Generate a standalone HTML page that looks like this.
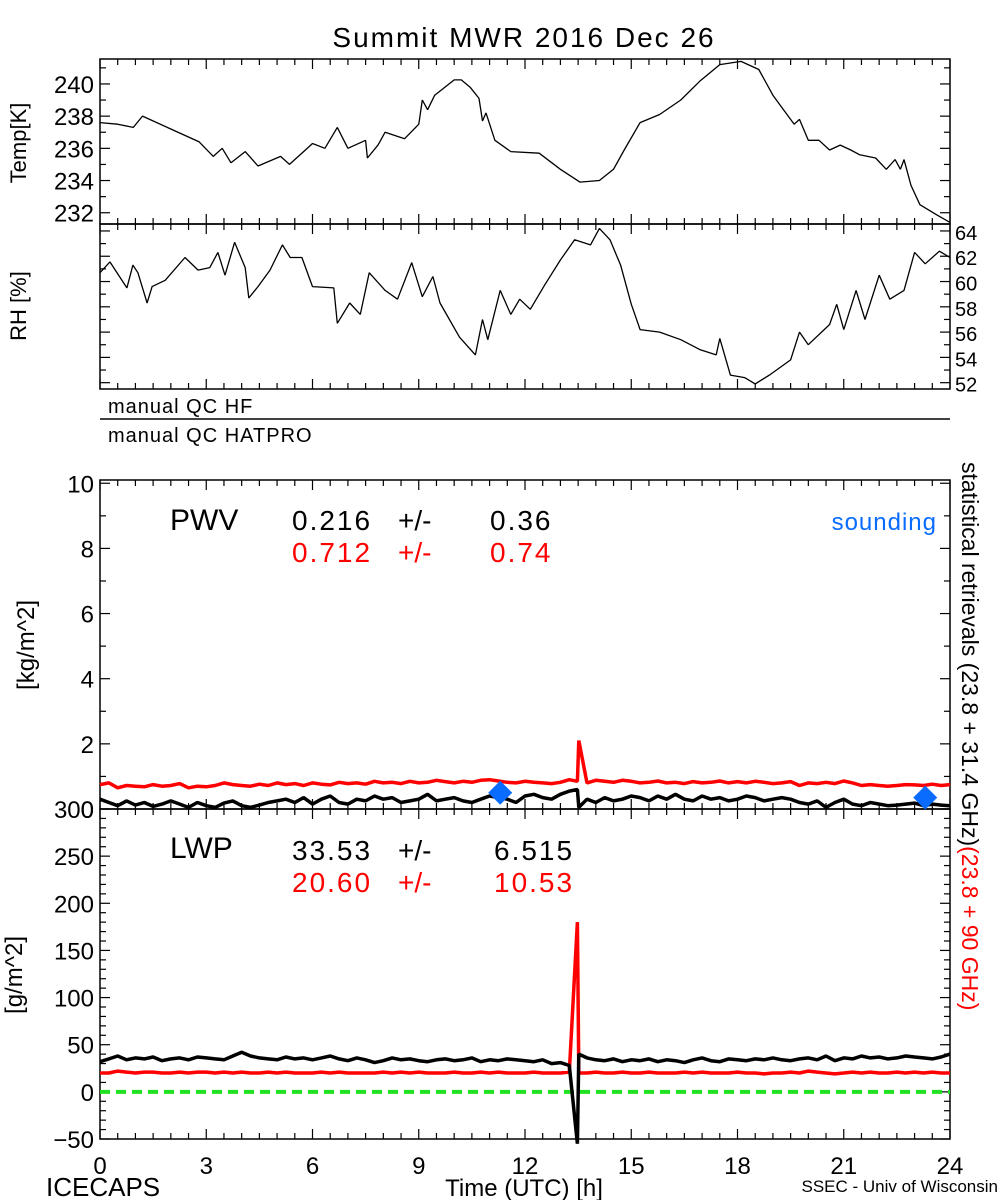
<!DOCTYPE html>
<html><head><meta charset="utf-8"><style>
body{margin:0;background:#fff;width:1000px;height:1200px;overflow:hidden}
svg{display:block;font-family:"Liberation Sans",sans-serif}
</style></head><body>
<svg id="chart" width="1000" height="1200" viewBox="0 0 1000 1200" xmlns="http://www.w3.org/2000/svg">
<text x="524" y="47" font-size="28" text-anchor="middle" letter-spacing="2">Summit MWR 2016 Dec 26</text>
<text transform="translate(26,143) rotate(-90)" font-size="22" text-anchor="middle">Temp[K]</text>
<text transform="translate(26,306) rotate(-90)" font-size="22" text-anchor="middle">RH [%]</text>
<text x="108" y="413" font-size="20" letter-spacing="1">manual QC HF</text>
<line x1="100" y1="419" x2="950" y2="419" stroke="#000" stroke-width="1.5"/>
<text x="108" y="442" font-size="20" letter-spacing="1">manual QC HATPRO</text>
<text transform="translate(34,645) rotate(-90)" font-size="24" text-anchor="middle">[kg/m^2]</text>
<text transform="translate(22,975) rotate(-90)" font-size="24" text-anchor="middle">[g/m^2]</text>
<text x="170" y="530" font-size="30">PWV</text>
<g font-size="28"><text x="292" y="530" letter-spacing="2">0.216</text><text x="398" y="530">+/-</text><text x="490" y="530" letter-spacing="2">0.36</text></g>
<g font-size="28" fill="#f00"><text x="292" y="562" letter-spacing="2">0.712</text><text x="398" y="562">+/-</text><text x="490" y="562" letter-spacing="2">0.74</text></g>
<text x="937" y="530" font-size="24" fill="#0a6cff" text-anchor="end" letter-spacing="1">sounding</text>
<text x="170" y="858" font-size="30">LWP</text>
<g font-size="28"><text x="292" y="860" letter-spacing="2">33.53</text><text x="398" y="860">+/-</text><text x="494" y="860" letter-spacing="2">6.515</text></g>
<g font-size="28" fill="#f00"><text x="292" y="892" letter-spacing="2">20.60</text><text x="398" y="892">+/-</text><text x="494" y="892" letter-spacing="2">10.53</text></g>
<text transform="translate(962,462) rotate(90)" font-size="23"><tspan>statistical retrievals (23.8 + 31.4 GHz)</tspan><tspan fill="#f00">(23.8 + 90 GHz)</tspan></text>
<text x="524" y="1196" font-size="24" text-anchor="middle">Time (UTC) [h]</text>
<text x="46" y="1196" font-size="26">ICECAPS</text>
<text x="998" y="1192" font-size="17" text-anchor="end">SSEC - Univ of Wisconsin</text>
</svg>
<script>
// Temperature (K)
const tempHours=[0,0.5,0.94,1.2,2.0,2.8,3.2,3.45,3.7,4.1,4.46,5.1,5.35,5.8,6,6.35,6.7,7,7.5,7.55,7.85,8.05,8.6,9,9.1,9.25,9.45,10,10.2,10.45,10.7,10.8,10.9,11.15,11.6,12.4,13,13.55,14.1,14.5,14.8,15.25,15.8,16.4,16.95,17.5,18.1,18.6,19,19.3,19.6,19.75,20,20.3,20.6,20.9,21.2,21.45,21.9,22.2,22.45,22.6,22.7,22.9,23.15,23.6,24];
const tempValues=[237.6,237.5,237.3,238,237.2,236.4,235.5,236,235.1,235.8,234.9,235.5,235,235.9,236.3,236,237.3,236,236.5,235.4,236.2,237,236.6,237.5,239,238.4,239.3,240.25,240.25,239.8,239.1,237.7,238.2,236.5,235.8,235.7,234.7,233.9,234,234.7,235.9,237.6,238.1,239,240.2,241.2,241.4,240.9,239.3,238.4,237.5,237.8,236.5,236.5,235.9,236.2,235.9,235.6,235.4,234.7,235.3,234.7,235.3,233.7,232.5,231.9,231.4];
const tempTicks=[232,234,236,238,240];
// Relative humidity (%)
const rhHours=[0,0.28,0.76,0.93,1.07,1.33,1.47,1.84,2.4,2.77,3.1,3.33,3.53,3.8,4.1,4.2,4.46,4.8,5.15,5.37,5.7,6,6.6,6.7,7.05,7.35,7.6,8.05,8.4,8.8,9.1,9.4,9.6,10.15,10.6,10.8,10.95,11.3,11.6,11.85,12.15,12.55,13,13.4,13.85,14.1,14.4,14.7,15,15.25,15.8,16.4,16.95,17.4,17.5,17.8,18.2,18.5,18.9,19.5,19.75,20,20.6,20.8,21,21.35,21.6,22,22.3,22.7,23,23.3,23.7,24];
const rhValues=[60.7,61.55,59.5,61.3,60.7,58.3,59.6,60.1,61.9,60.9,61.1,62.3,60.5,63.1,61.1,58.7,59.6,60.9,62.9,61.9,61.9,59.6,59.5,56.7,58.3,57.4,60.7,59.3,58.6,61.5,58.8,60.4,58.3,55.6,54.2,57,55.4,59.3,57.4,58.6,57.8,59.7,61.7,63.3,62.9,64.2,63.3,61.3,58.2,56.2,56,55.4,54.6,54.2,55.5,52.6,52.4,51.9,52.6,53.8,56,55,56.6,58.2,56.2,59.3,57,60.5,58.6,59.3,62.3,61.4,62.4,61.9];
const rhTicks=[52,54,56,58,60,62,64];
// PWV (kg/m^2)
const pwvHours=[0,0.25,0.5,0.75,1,1.25,1.5,1.75,2,2.25,2.5,2.75,3,3.25,3.5,3.75,4,4.25,4.5,4.75,5,5.25,5.5,5.75,6,6.25,6.5,6.75,7,7.25,7.5,7.75,8,8.25,8.5,8.75,9,9.25,9.5,9.75,10,10.25,10.5,10.75,11,11.25,11.5,11.75,12,12.25,12.5,12.75,13,13.25,13.48,13.52,13.75,14,14.25,14.5,14.75,15,15.25,15.5,15.75,16,16.25,16.5,16.75,17,17.25,17.5,17.75,18,18.25,18.5,18.75,19,19.25,19.5,19.75,20,20.25,20.5,20.75,21,21.25,21.5,21.75,22,22.25,22.5,22.75,23,23.25,23.5,23.75,24];
const pwvBlack=[0.3,0.2,0.1,0.25,0.12,0.2,0.08,0.15,0.25,0.15,0.05,0.2,0.1,0.05,0.18,0.25,0.1,0.05,0.12,0.2,0.25,0.3,0.2,0.35,0.15,0.3,0.4,0.2,0.15,0.3,0.25,0.4,0.3,0.35,0.2,0.25,0.3,0.45,0.25,0.3,0.35,0.25,0.2,0.3,0.4,0.35,0.3,0.2,0.4,0.45,0.35,0.3,0.45,0.55,0.6,0.05,0.3,0.2,0.35,0.25,0.3,0.4,0.35,0.25,0.4,0.3,0.45,0.3,0.25,0.4,0.3,0.35,0.25,0.3,0.4,0.35,0.25,0.3,0.35,0.3,0.2,0.15,0.25,0.05,0.2,0.3,0.15,0.1,0.2,0.15,0.1,0.12,0.15,0.18,0.1,0.15,0.12,0.1];
const pwvRed=[0.75,0.8,0.65,0.72,0.7,0.68,0.75,0.7,0.72,0.78,0.65,0.7,0.68,0.72,0.8,0.75,0.72,0.7,0.76,0.72,0.8,0.75,0.78,0.72,0.8,0.76,0.74,0.82,0.78,0.8,0.76,0.85,0.8,0.82,0.78,0.85,0.8,0.82,0.88,0.84,0.8,0.85,0.82,0.88,0.9,0.86,0.82,0.8,0.85,0.82,0.8,0.78,0.82,0.9,0.85,2.1,0.8,0.88,0.85,0.82,0.88,0.85,0.8,0.82,0.86,0.8,0.82,0.78,0.84,0.8,0.82,0.86,0.8,0.84,0.8,0.85,0.82,0.78,0.8,0.84,0.72,0.8,0.78,0.82,0.78,0.86,0.8,0.72,0.75,0.72,0.7,0.72,0.75,0.74,0.72,0.76,0.72,0.75];
const pwvTicks=[0,2,4,6,8,10];
const soundingHours=[11.3,23.3];
const soundingValues=[0.5,0.35];
// LWP (g/m^2)
const lwpBlack=[32,35,38,34,36,35,37,33,35,36,34,37,36,35,34,38,42,38,36,35,34,37,35,36,34,36,38,35,33,36,34,31,33,36,34,35,33,32,34,35,33,34,36,32,34,33,35,34,33,32,34,30,31,28,-55,40,36,34,33,35,32,34,33,35,32,34,33,31,34,36,33,32,35,34,33,35,34,36,34,33,35,36,34,38,33,36,35,38,36,37,35,36,38,37,36,35,37,40];
const lwpRed=[20,20,22,21,20,21,21,20,20,21,20,21,21,20,21,20,21,20,20,21,20,21,20,20,20,21,20,21,20,20,20,20,21,20,21,20,21,20,20,20,21,20,20,21,20,21,20,20,20,21,20,20,20,21,180,20,20,21,20,20,21,20,20,21,20,20,20,21,20,21,20,20,20,21,20,20,19,20,20,21,20,22,21,20,19,20,21,20,21,20,20,21,20,21,20,21,20,20];
const lwpTicks=[-50,0,50,100,150,200,250,300];
const xTicks=[0,3,6,9,12,15,18,21,24];

const NS='http://www.w3.org/2000/svg';
const svg=document.getElementById('chart');
const X0=100,X1=950;
const xs=h=>X0+(X1-X0)*h/24;
function mk(tag,attrs,parent){const e=document.createElementNS(NS,tag);for(const k in attrs)e.setAttribute(k,attrs[k]);(parent||svg).appendChild(e);return e;}
function yScale(top,bot,vTop,vBot){return v=>top+(vTop-v)/(vTop-vBot)*(bot-top);}

const panels=[
 {name:'temp',top:59,bot:224,vTop:241.55,vBot:231.3,minor:1,ticks:tempTicks,side:'left'},
 {name:'rh',top:224,bot:389,vTop:64.55,vBot:51.5,minor:1,ticks:rhTicks,side:'right'},
 {name:'pwv',top:480,bot:809,vTop:10.1,vBot:0,minor:1,ticks:pwvTicks,side:'left'},
 {name:'lwp',top:809,bot:1139,vTop:300,vBot:-50,minor:10,ticks:lwpTicks,side:'left'}
];
panels.forEach(p=>{
 p.y=yScale(p.top,p.bot,p.vTop,p.vBot);
 const g=mk('g',{});
 
 
 const fr=mk('rect',{x:X0,y:p.top,width:X1-X0,height:p.bot-p.top,fill:'none',stroke:'#000','stroke-width':1.5},g);
 
 
 for(let h=0;h<=24;h+=0.5){
  const maj=(h%3===0);const L=maj?10:6;const x=xs(h);
  mk('line',{x1:x,x2:x,y1:p.bot,y2:p.bot-L,stroke:'#000','stroke-width':1.2},g);
  mk('line',{x1:x,x2:x,y1:p.top,y2:p.top+L,stroke:'#000','stroke-width':1.2},g);
 }
 const start=Math.ceil(p.vBot/p.minor)*p.minor;
 for(let v=start;v<=p.vTop;v+=p.minor){
  const y=p.y(v);const maj=p.ticks.includes(Math.round(v*100)/100);const L=maj?10:6;
  mk('line',{x1:X0,x2:X0+L,y1:y,y2:y,stroke:'#000','stroke-width':1.2},g);
  mk('line',{x1:X1,x2:X1-L,y1:y,y2:y,stroke:'#000','stroke-width':1.2},g);
 }
 p.ticks.forEach(v=>{
  const t=mk('text',{x:p.side==='left'?X0-6:X1+5,y:p.y(v)+9,'font-size':(p.name==='rh'?20:24),'text-anchor':p.side==='left'?'end':'start'},g);
  t.textContent=(v<0?'\u2212'+(-v):v);
  
  
 });
});
xTicks.forEach(h=>{
 const t=mk('text',{x:xs(h),y:1174,'font-size':24,'text-anchor':'middle'});
 t.textContent=h;
 
 
});
function line(hours,vals,p,color,w,name){
 const d=hours.map((h,i)=>(i?'L':'M')+xs(h).toFixed(1)+' '+p.y(vals[i]).toFixed(1)).join(' ');
 const e=mk('path',{d:d,fill:'none',stroke:color,'stroke-width':w,'stroke-linejoin':'miter','stroke-miterlimit':1});
 
 
}
line(tempHours,tempValues,panels[0],'#000',1.3,'temp-line');
line(rhHours,rhValues,panels[1],'#000',1.3,'rh-line');
line(pwvHours,pwvRed,panels[2],'#f00',3.5,'pwv-red-line');
line(pwvHours,pwvBlack,panels[2],'#000',3.5,'pwv-black-line');
const zl=mk('line',{x1:X0,x2:X1,y1:panels[3].y(0),y2:panels[3].y(0),stroke:'#22e022','stroke-width':4,'stroke-dasharray':'10 6'});


line(pwvHours,lwpRed,panels[3],'#f00',3.5,'lwp-red-line');
line(pwvHours,lwpBlack,panels[3],'#000',3.5,'lwp-black-line');
soundingHours.forEach((h,i)=>{
 const x=xs(h),y=panels[2].y(soundingValues[i]);
 const d=mk('polygon',{points:`${x},${y-12} ${x+12},${y} ${x},${y+12} ${x-12},${y}`,fill:'#0a6cff'});
 
 
});
</script>
</body></html>
